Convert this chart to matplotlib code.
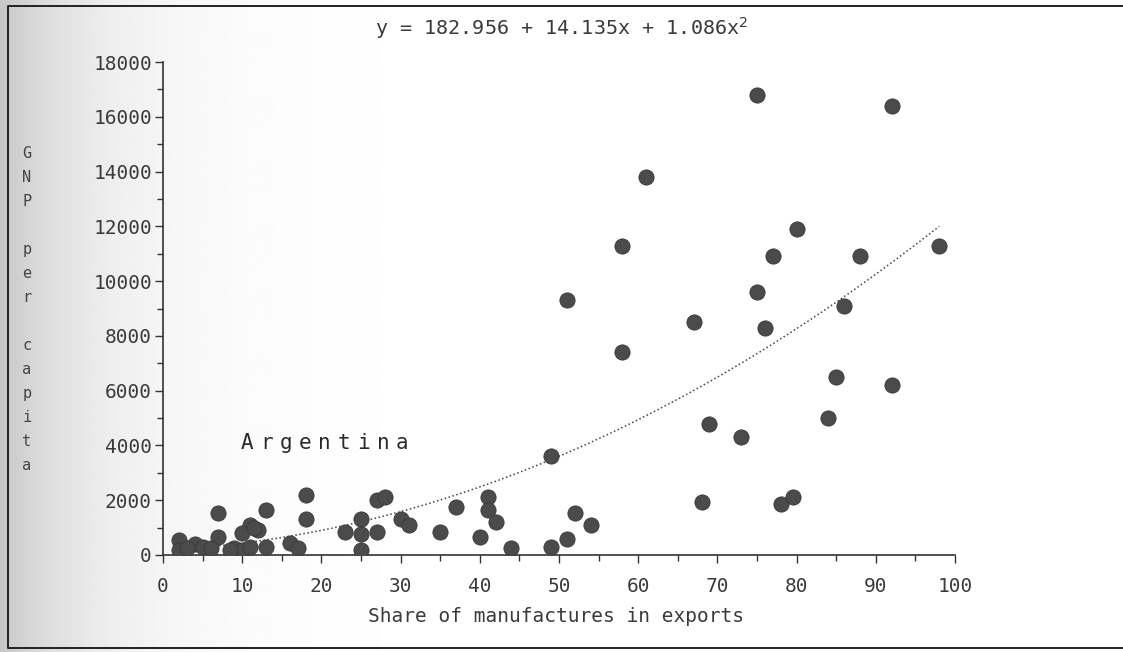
import matplotlib.pyplot as plt
import numpy as np

# share of manufactures in exports (%) and GNP per capita
share = [75, 92, 61, 58, 51, 58, 67, 80, 77, 88, 98, 75, 76, 86, 85, 92,
         69, 84, 73, 49, 68, 78, 79.5, 52, 54, 51, 49, 44,
         18, 18, 7, 13, 11, 12, 10, 7, 2, 2, 4, 5, 9, 10, 11, 13, 8.5, 16,
         17, 23, 25, 25, 25, 27, 27, 28, 30, 31, 35, 37, 40, 41, 41, 42,
         3, 6, 11.5]
gnp = [16800, 16400, 13800, 11300, 9300, 7400, 8500, 11900, 10900, 10900,
       11300, 9600, 8300, 9100, 6500, 6200,
       4800, 5000, 4300, 3600, 1950, 1850, 2100, 1550, 1100, 600, 300, 250,
       2200, 1300, 1550, 1650, 1100, 900, 800, 650, 550, 200, 400, 300, 250,
       200, 300, 300, 200, 450,
       250, 850, 1300, 750, 200, 850, 2000, 2100, 1300, 1100, 850, 1750, 650,
       2100, 1650, 1200,
       250, 250, 1000]

# fitted quadratic shown in the title
coef = [182.956, 14.135, 1.086]
title = 'y = 182.956 + 14.135x + 1.086x$^2$'

xticks = [0, 10, 20, 30, 40, 50, 60, 70, 80, 90, 100]
yticks = [0, 2000, 4000, 6000, 8000, 10000, 12000, 14000, 16000, 18000]

mono = 'DejaVu Sans Mono'
txt = '#3a3a3a'

fig = plt.figure(figsize=(11.23, 6.52), dpi=100)

# scanned page background: grey shadow on the left and a border
bg = fig.add_axes([0, 0, 1, 1], zorder=-10)
grad = np.linspace(0, 1, 400)
shade = np.clip(1 - 0.22 * np.exp(-grad * 12), 0, 1)
bg.imshow(np.tile(shade, (10, 1)), cmap='gray', vmin=0, vmax=1,
          extent=[0, 1, 0, 1], aspect='auto')
bg.plot([1, 8 / 1123, 8 / 1123, 1], [646 / 652, 646 / 652, 4 / 652, 4 / 652],
        color='#222222', lw=1.4)
bg.set_xlim(0, 1)
bg.set_ylim(0, 1)
bg.axis('off')

ax = fig.add_axes([163 / 1123, 1 - 555 / 652, (955 - 163) / 1123, (555 - 62) / 652])
ax.patch.set_alpha(0)

ax.scatter(share, gnp, s=120, color='#4b4b4b', edgecolors='#3a3a3a',
           linewidths=0.6, zorder=3)

xf = np.linspace(min(share), max(share), 200)
yf = coef[0] + coef[1] * xf + coef[2] * xf ** 2
ax.plot(xf, yf, linestyle=':', color='#444444', lw=1.1, zorder=2)

ax.set_xlim(0, 100)
ax.set_ylim(0, 18000)
ax.set_xticks(xticks)
ax.set_yticks(yticks)
ax.set_xticks(np.arange(5, 100, 10), minor=True)
ax.set_yticks(np.arange(1000, 18000, 2000), minor=True)
ax.tick_params(axis='both', which='major', length=6, width=1, color='#333333',
               labelsize=14, labelcolor=txt)
ax.tick_params(axis='both', which='minor', length=4, width=1, color='#333333')
ax.tick_params(axis='x', pad=10)
ax.tick_params(axis='y', pad=2)
for lab in ax.get_xticklabels() + ax.get_yticklabels():
    lab.set_family(mono)
for side in ['top', 'right']:
    ax.spines[side].set_visible(False)
for side in ['left', 'bottom']:
    ax.spines[side].set_color('#333333')
    ax.spines[side].set_linewidth(1.2)

# spaced-out label for Argentina
for i, ch in enumerate('Argentina'):
    ax.annotate(ch, (9.7, 4090), xytext=(i * 14 + 5, 0), textcoords='offset points',
                ha='center', va='center', fontsize=15, family=mono, color='#2a2a2a')

fig.text(0.5, 1 - 28 / 652, title, ha='center', va='center',
         fontsize=14.5, family=mono, color=txt)
fig.text(0.4955, 1 - 617 / 652, 'Share of manufactures in exports',
         ha='center', va='center', fontsize=14, family=mono, color=txt)
fig.text(27 / 1123, 1 - 310 / 652, 'G\nN\nP\n\np\ne\nr\n\nc\na\np\ni\nt\na',
         ha='center', va='center', fontsize=11, family=mono, color='#444444',
         linespacing=1.75)

fig.savefig('out.png', dpi=100)
